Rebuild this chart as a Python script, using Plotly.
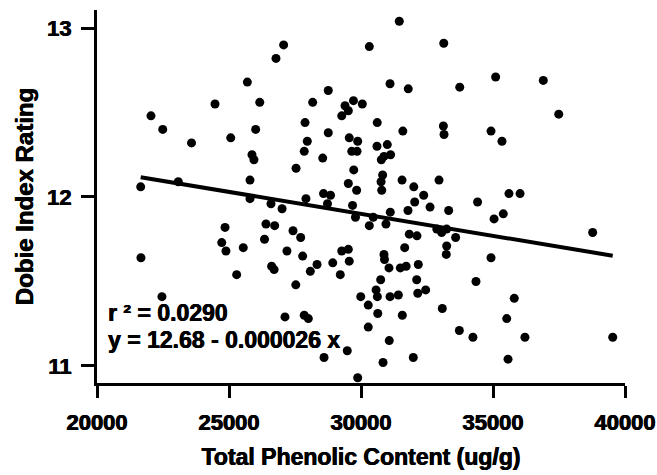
import plotly.graph_objects as go

# Total phenolic content (ug/g)
phenolic = [
    21655, 22045, 22490, 23580, 24470, 25065, 25695, 26165, 26010, 25870,
    25945, 25795, 26780, 27070, 23080, 31450, 30315, 33135, 28760, 28170,
    31100, 31790, 33740, 29715, 30050, 29395, 29520, 29270, 27880, 30615,
    28760, 31585, 33120, 33145, 27965, 27850, 29555, 29875, 29650, 29850,
    28550, 30605, 30995, 31120, 30870, 30770, 27540, 29725, 30820, 30760,
    30785, 29520, 29835, 31555, 32000, 32955, 35100, 36905, 37490, 34925,
    35340, 32375, 32035, 31780, 32615, 33320, 34415, 27010, 27915, 28580,
    28845, 28730, 29680, 29790, 30315, 30465, 31110, 30945, 31830, 32120,
    32870, 33055, 33245, 33585, 33245, 33230, 31655, 30870, 30890, 27425,
    27715, 27195, 27790, 29270, 29520, 29555, 28930, 28335, 28080, 29215,
    31060, 31490, 31710, 32170, 30745, 32110, 34355, 27530, 30570, 30620,
    31100, 31415, 32150, 32450, 29990, 30275, 30635, 31565, 33080, 27120,
    27850, 28005, 30275, 33725, 34240, 31070, 29480, 28600, 31980, 30835,
    29875, 35605, 36025, 35040, 35390, 38775, 34925, 35805, 35520, 36210,
    39535, 35570, 25795, 26590, 24850, 26400, 26730, 24725, 24885, 25540,
    26345, 21665, 25290, 26615, 26710, 22460,
]

# Dobie index rating
dobie = [
    12.06, 12.48, 12.40, 12.32, 12.55, 12.35, 12.68, 12.56, 12.40, 12.25,
    12.22, 12.10, 12.82, 12.90, 12.09, 13.04, 12.89, 12.91, 12.63, 12.56,
    12.67, 12.64, 12.65, 12.57, 12.55, 12.54, 12.51, 12.48, 12.44, 12.44,
    12.38, 12.39, 12.42, 12.37, 12.33, 12.27, 12.35, 12.33, 12.27, 12.27,
    12.23, 12.30, 12.31, 12.25, 12.24, 12.22, 12.17, 12.16, 12.13, 12.09,
    12.04, 12.08, 12.04, 12.10, 12.06, 12.10, 12.71, 12.69, 12.49, 12.39,
    12.33, 12.01, 11.97, 11.92, 11.94, 11.92, 11.97, 11.93, 11.99, 12.02,
    12.01, 11.96, 11.95, 11.88, 11.83, 11.88, 11.91, 11.84, 11.78, 11.77,
    11.81, 11.79, 11.81, 11.76, 11.71, 11.66, 11.70, 11.66, 11.63, 11.80,
    11.76, 11.68, 11.65, 11.68, 11.69, 11.62, 11.61, 11.60, 11.56, 11.54,
    11.58, 11.58, 11.59, 11.60, 11.51, 11.51, 11.50, 11.48, 11.45, 11.41,
    11.41, 11.42, 11.43, 11.45, 11.41, 11.36, 11.31, 11.30, 11.34, 11.29,
    11.30, 11.28, 11.23, 11.21, 11.17, 11.15, 11.09, 11.05, 11.05, 11.02,
    10.93, 12.02, 12.02, 11.87, 11.90, 11.79, 11.64, 11.40, 11.28, 11.17,
    11.17, 11.04, 11.99, 11.96, 11.82, 11.84, 11.83, 11.73, 11.68, 11.70,
    11.75, 11.64, 11.54, 11.59, 11.57, 11.41,
]

# Regression shown on the chart
intercept = 12.68
slope = -0.000026
r_squared_text = "r \u00b2 = 0.0290"
equation_text = "y = 12.68 - 0.000026 x"

x_tickvals = [20000, 25000, 30000, 35000, 40000]
x_ticktext = ["20000", "25000", "30000", "35000", "40000"]
y_tickvals = [11, 12, 13]
y_ticktext = ["11", "12", "13"]

x_title = "Total Phenolic Content (ug/g)"
y_title = "Dobie Index Rating"

FONT = "Liberation Sans, Arial, sans-serif"
HEAVY = "0.5px 0 0 black, -0.3px 0 0 black"

def bold(s):
    return "<b>" + s + "</b>"

def tfont(size):
    return dict(family=FONT, size=size, color="black", shadow=HEAVY)

line_x = [min(phenolic), max(phenolic)]
line_y = [intercept + slope * v for v in line_x]

fig = go.Figure()
fig.add_trace(go.Scatter(
    x=phenolic, y=dobie, mode="markers",
    marker=dict(color="black", size=9, line=dict(width=0)),
    showlegend=False, hoverinfo="x+y",
))
fig.add_trace(go.Scatter(
    x=line_x, y=line_y, mode="lines",
    line=dict(color="black", width=4),
    showlegend=False, hoverinfo="skip",
))

fig.add_annotation(
    x=0.017, y=0.188, xref="paper", yref="paper",
    xanchor="left", yanchor="middle", showarrow=False,
    text=bold(r_squared_text), font=tfont(23),
)
fig.add_annotation(
    x=0.017, y=0.115, xref="paper", yref="paper",
    xanchor="left", yanchor="middle", showarrow=False,
    text=bold(equation_text), font=tfont(23),
)

fig.update_layout(
    width=657, height=475,
    margin=dict(l=97, r=32, t=10, b=92),
    paper_bgcolor="white", plot_bgcolor="white",
    font=dict(family=FONT, color="black"),
    xaxis=dict(
        range=[20000, 40000], automargin=False,
        tickvals=x_tickvals, ticktext=[bold(t) for t in x_ticktext],
        showgrid=False, zeroline=False,
        showline=True, linecolor="black", linewidth=3,
        ticks="outside", ticklen=12, tickwidth=3, tickcolor="black",
        ticklabelstandoff=6,
        tickfont=tfont(22),
        title=dict(text=bold(x_title), standoff=15, font=tfont(23)),
    ),
    yaxis=dict(
        range=[10.899, 13.1065], automargin=False,
        tickvals=y_tickvals, ticktext=[bold(t) for t in y_ticktext],
        showgrid=False, zeroline=False,
        showline=True, linecolor="black", linewidth=3,
        ticks="outside", ticklen=13, tickwidth=3, tickcolor="black",
        ticklabelstandoff=5,
        tickfont=tfont(22),
        title=dict(text=bold(y_title), standoff=7, font=tfont(24)),
    ),
)

fig.write_html("out.html")
